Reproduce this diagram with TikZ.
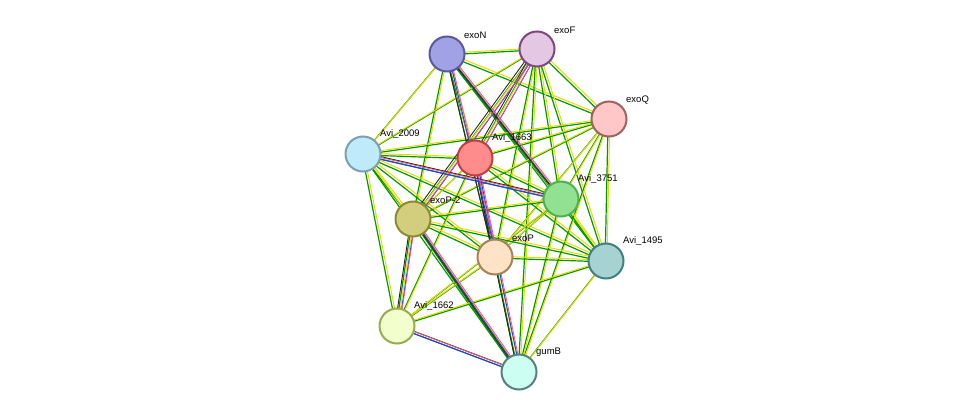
\documentclass[tikz,border=0pt]{standalone}
\usepackage{fontspec}
\setmainfont{Liberation Sans}
\usetikzlibrary{calc}
\tikzset{
    % protein node
    protein/.style 2 args={
        circle,
        minimum size=35pt,
        inner sep=0pt,
        draw=#1,
        fill=#2,
        line width=2pt
    },
    % protein label
    protein label/.style={
        font=\fontsize{9.5}{10}\selectfont,
        anchor=south west,
        inner sep=0pt
    },
    % interaction line styles
    ev green/.style={draw=green!60!black, line width=1.2pt},
    ev yellow/.style={draw=yellow!80!olive, line width=1pt},
    ev blue/.style={draw=blue!80, line width=0.9pt},
    ev dark/.style={draw=black!85, line width=0.9pt},
    ev pink/.style={draw=magenta!70, line width=0.8pt}
}
\begin{document}
\begin{tikzpicture}[x=1pt, y=-1pt]
    \useasboundingbox (0,0) rectangle (976,417);

    % coordinates of the proteins
    \coordinate (exoN) at (447,54);
    \coordinate (exoF) at (537,49);
    \coordinate (exoQ) at (609,119);
    \coordinate (a2009) at (363,154);
    \coordinate (a1663) at (475,158);
    \coordinate (a3751) at (561,199);
    \coordinate (exoP2) at (413,219);
    \coordinate (exoP) at (495,257);
    \coordinate (a1495) at (606,261);
    \coordinate (a1662) at (397,326);
    \coordinate (gumB) at (519,372);

    % interactions: green + yellow for every pair
    \foreach \a/\b in {exoN/exoF, exoN/exoQ, exoN/a2009, exoN/a1663, exoN/a3751, exoN/exoP2, exoN/exoP, exoN/a1495,
        exoF/exoQ, exoF/a2009, exoF/a1663, exoF/a3751, exoF/exoP2, exoF/exoP, exoF/a1495, exoF/gumB,
        exoQ/a2009, exoQ/a1663, exoQ/a3751, exoQ/exoP2, exoQ/exoP, exoQ/a1495, exoQ/gumB,
        a2009/a1663, a2009/a3751, a2009/exoP2, a2009/exoP, a2009/a1495, a2009/a1662, a2009/gumB,
        a1663/a3751, a1663/exoP2, a1663/exoP, a1663/a1495, a1663/a1662, a1663/gumB,
        a3751/exoP2, a3751/exoP, a3751/a1495, a3751/a1662, a3751/gumB,
        exoP2/exoP, exoP2/a1495, exoP2/a1662, exoP2/gumB,
        exoP/a1495, exoP/a1662, exoP/gumB,
        a1495/a1662, a1495/gumB, a1662/gumB} {
        \draw[ev green, transform canvas={shift={(-0.9pt,-0.9pt)}}] (\a) -- (\b);
        \draw[ev yellow, transform canvas={shift={(0.9pt,0.9pt)}}] (\a) -- (\b);
    }
    % interactions with more evidence
    \foreach \a/\b in {exoN/a3751, exoF/a1663, exoF/exoP2, exoP/gumB, exoP2/gumB, exoP2/a1662, a1663/exoP, exoN/exoP, a1662/gumB, a2009/a3751} {
        \draw[ev blue, transform canvas={shift={(1.8pt,-1.8pt)}}] (\a) -- (\b);
        \draw[ev dark, transform canvas={shift={(-1.8pt,1.8pt)}}] (\a) -- (\b);
        \draw[ev pink, transform canvas={shift={(2.6pt,0pt)}}] (\a) -- (\b);
    }

    % proteins
    \node[protein={blue!40!black!65}{blue!30!white!90!black}] (n-exoN) at (exoN) {};
    \node[protein={violet!45!gray}{violet!22!white}] (n-exoF) at (exoF) {};
    \node[protein={red!25!gray}{red!22!white}] (n-exoQ) at (exoQ) {};
    \node[protein={cyan!30!gray}{cyan!25!white}] (n-a2009) at (a2009) {};
    \node[protein={red!50!gray}{red!45!white}] (n-a1663) at (a1663) {};
    \node[protein={green!40!gray}{green!35!white!88!black}] (n-a3751) at (a3751) {};
    \node[protein={olive!65!gray}{olive!40!white}] (n-exoP2) at (exoP2) {};
    \node[protein={orange!30!gray}{orange!22!white}] (n-exoP) at (exoP) {};
    \node[protein={teal!50!gray}{teal!35!white}] (n-a1495) at (a1495) {};
    \node[protein={lime!35!gray}{lime!20!white}] (n-a1662) at (a1662) {};
    \node[protein={teal!30!gray}{green!25!cyan!20!white}] (n-gumB) at (gumB) {};

    % labels
    \node[protein label] (l-exoN) at ($(exoN)+(17,-15)$) {exoN};
    \node[protein label] (l-exoF) at ($(exoF)+(17,-15)$) {exoF};
    \node[protein label] (l-exoQ) at ($(exoQ)+(17,-15)$) {exoQ};
    \node[protein label] (l-a2009) at ($(a2009)+(17,-15)$) {Avi\_2009};
    \node[protein label] (l-a1663) at ($(a1663)+(17,-15)$) {Avi\_1663};
    \node[protein label] (l-a3751) at ($(a3751)+(17,-15)$) {Avi\_3751};
    \node[protein label] (l-exoP2) at ($(exoP2)+(17,-15)$) {exoP-2};
    \node[protein label] (l-exoP) at ($(exoP)+(17,-15)$) {exoP};
    \node[protein label] (l-a1495) at ($(a1495)+(17,-15)$) {Avi\_1495};
    \node[protein label] (l-a1662) at ($(a1662)+(17,-15)$) {Avi\_1662};
    \node[protein label] (l-gumB) at ($(gumB)+(17,-15)$) {gumB};
\end{tikzpicture}
\end{document}
